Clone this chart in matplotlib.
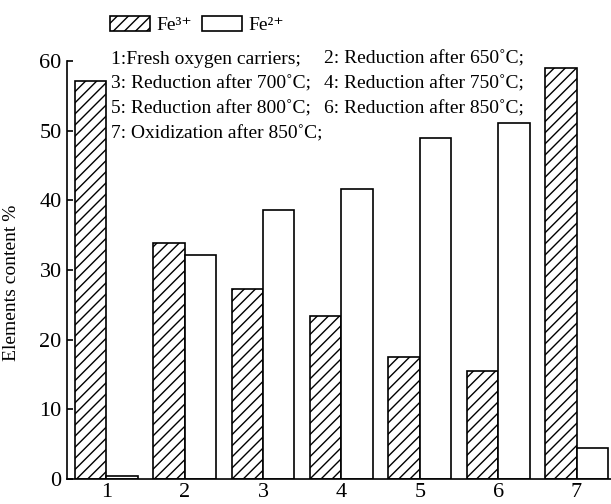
import matplotlib.pyplot as plt
import numpy as np

plt.rcParams['font.family'] = ['Liberation Serif', 'DejaVu Serif']
plt.rcParams['hatch.linewidth'] = 1.0

# sample number and content of each iron state (%)
samples = [1, 2, 3, 4, 5, 6, 7]
fe3 = [57.2, 33.9, 27.3, 23.4, 17.5, 15.5, 59.0]
fe2 = [0.5, 32.2, 38.7, 41.6, 48.9, 51.1, 4.5]

notes = [
    ["1:Fresh oxygen carriers;", "2: Reduction after 650˚C;"],
    ["3: Reduction after 700˚C;", "4: Reduction after 750˚C;"],
    ["5: Reduction after 800˚C;", "6: Reduction after 850˚C;"],
    ["7: Oxidization after 850˚C;", ""],
]

fig = plt.figure(figsize=(6.11, 5.04), dpi=100)
ax = fig.add_axes([0.110, 0.0496, 0.890, 0.829])

x = np.array(samples)
w = 0.4
ax.bar(x - w / 2, fe3, w, facecolor='white', edgecolor='black',
       linewidth=1.2, hatch='///', label='Fe³⁺')
ax.bar(x + w / 2, fe2, w, facecolor='white', edgecolor='black',
       linewidth=1.2, label='Fe²⁺')

ax.set_xlim(0.5, 7.44)
ax.set_ylim(0, 60)
ax.set_yticks(range(0, 61, 10))
ax.set_xticks(samples)
ax.spines['top'].set_visible(False)
ax.spines['right'].set_visible(False)
ax.spines['left'].set_linewidth(1.2)
ax.spines['bottom'].set_linewidth(1.2)
ax.tick_params(axis='y', direction='in', length=4.5, width=1.2, pad=4, labelsize=16)
ax.tick_params(axis='x', length=0, pad=3, labelsize=16)

ax.set_ylabel('Elements content %', fontsize=14)
ax.yaxis.set_label_coords(-0.087, 0.47)

# notes in two columns
for i, row in enumerate(notes):
    yy = 1 - (59 + 25 * i) / 504
    fig.text(111 / 611, yy, row[0], fontsize=14, va='center', ha='left')
    if row[1]:
        fig.text(324 / 611, yy, row[1], fontsize=14, va='center', ha='left')

ax.legend(loc='center left', bbox_to_anchor=(110 / 611, 1 - 25 / 504),
          bbox_transform=fig.transFigure, ncol=2, frameon=False, fontsize=14,
          handlelength=2.05, handleheight=0.8, handletextpad=0.35,
          columnspacing=0.5, borderpad=0, borderaxespad=0)

fig.savefig('out.png', dpi=100)
